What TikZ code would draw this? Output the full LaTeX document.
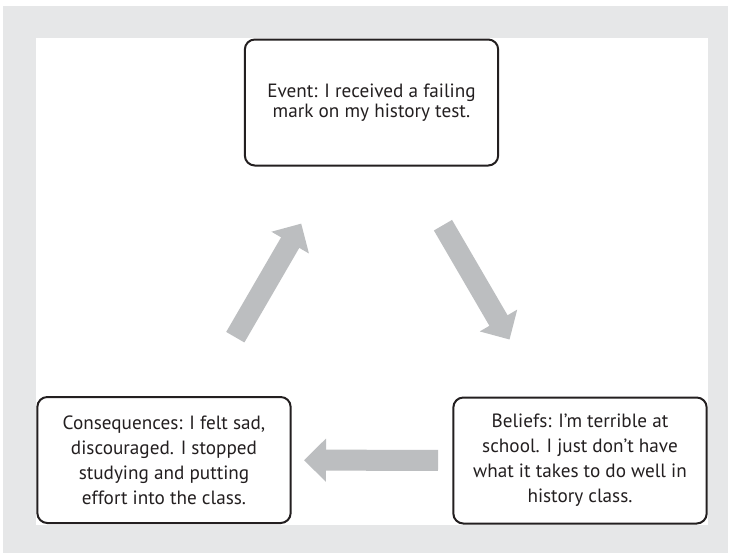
\documentclass[tikz,border=0pt]{standalone}
\usepackage{fontspec}
\setmainfont{PT Sans}
\usetikzlibrary{arrows.meta}
\definecolor{framegrey}{HTML}{E6E7E8}
\definecolor{arrowgrey}{HTML}{BCBEC0}
\definecolor{ink}{HTML}{231F20}
\begin{document}
\begin{tikzpicture}[x=0.75pt,y=-0.75pt,
  stagebox/.style={draw=ink, line width=1.5pt, rounded corners=7.5pt, fill=white,
    text=ink, align=center, minimum width=190pt, minimum height=94.5pt, inner sep=0pt,
    font=\fontsize{14.4}{18.75}\selectfont},
  flow/.style={draw=arrowgrey, line width=15.75pt,
    -{Triangle[length=16.5pt, width=31.5pt]},
    shorten <=106.5pt, shorten >=105pt}]
\useasboundingbox (0,0) rectangle (730,553);
% frame and white panel
\fill[framegrey] (3,6) rectangle (728,553);
\fill[white] (36,38) rectangle (708,525);
% the three stages
\node[stagebox, font=\fontsize{14.4}{14.6}\selectfont] (event) at (371.5,102.5)
  {Event: I received a failing\\mark on my history test.};
\node[stagebox] (beliefs) at (580,460.5)
  {Beliefs: I’m terrible at\\school. I just don’t have\\what it takes to do well in\\history class.};
\node[stagebox] (cons) at (164,460)
  {Consequences: I felt sad,\\discouraged. I stopped\\studying and putting\\effort into the class.};
% cycle arrows
\draw[flow] (cons.center) -- (event.center);
\draw[flow] (event.center) -- (beliefs.center);
\draw[flow] (beliefs.center) -- (cons.center);
\end{tikzpicture}
\end{document}
